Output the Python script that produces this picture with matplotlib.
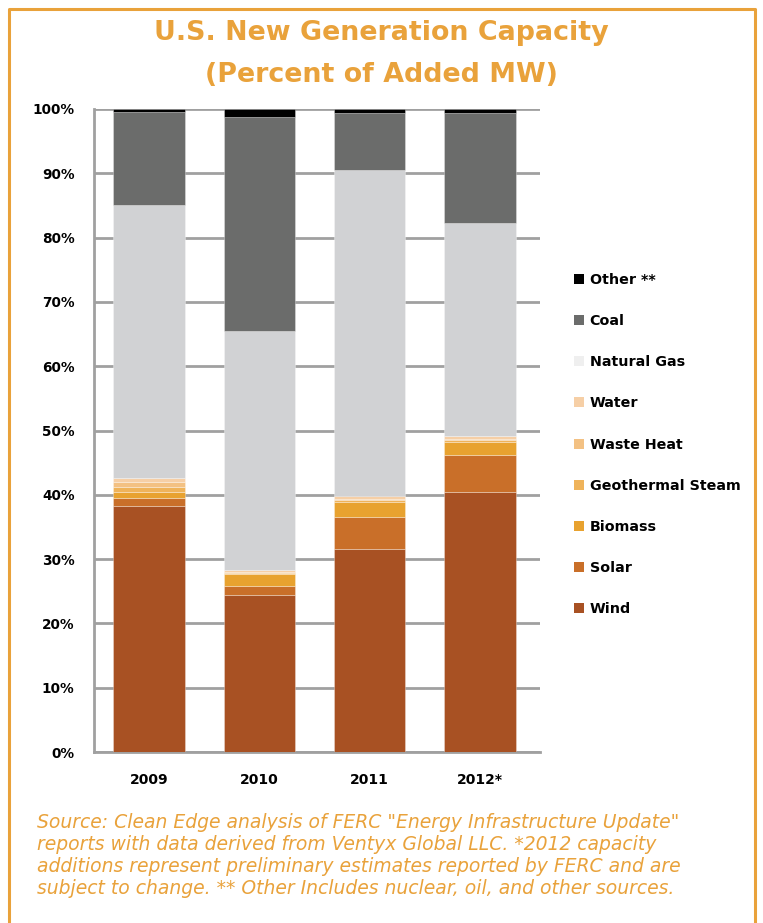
import numpy as np
import matplotlib.pyplot as plt
from matplotlib.patches import Patch
from matplotlib.lines import Line2D

# ===== DATA (percent of added MW) =====
years = ["2009", "2010", "2011", "2012*"]
sources = ["Wind", "Solar", "Biomass", "Geothermal Steam", "Waste Heat",
           "Water", "Natural Gas", "Coal", "Other **"]

wind        = [38.2, 24.4, 31.5, 40.5]
solar       = [1.3, 1.4, 5.0, 5.75]
biomass     = [1.0, 1.9, 2.4, 2.0]
geothermal  = [0.7, 0.2, 0.3, 0.2]
waste_heat  = [0.8, 0.1, 0.2, 0.3]
water       = [0.6, 0.3, 0.4, 0.35]
natural_gas = [42.5, 37.1, 50.7, 33.1]
coal        = [14.5, 33.3, 8.9, 17.2]
other       = [0.4, 1.3, 0.6, 0.6]

series = [wind, solar, biomass, geothermal, waste_heat, water,
          natural_gas, coal, other]
bar_colors = ["#A85123", "#C96F29", "#E8A22F", "#EFB35A", "#F3C183",
              "#F6CFA6", "#D1D2D4", "#6B6C6B", "#000000"]
legend_colors = bar_colors.copy()
legend_colors[6] = "#EFEFEF"

orange = "#E9A23B"

fig = plt.figure(figsize=(7.63, 9.23), dpi=100)
W, H = 763, 923

# axes in pixel coords: left 94, right 540, top 109, bottom 752
ax = fig.add_axes([94 / W, 1 - 752 / H, (540 - 94) / W, (752 - 109) / H])

x = np.arange(len(years))
bottom = np.zeros(len(years))
for vals, col in zip(series, bar_colors):
    ax.bar(x, vals, width=0.65, bottom=bottom, color=col,
           edgecolor=(1, 1, 1, 0.35), linewidth=0.6, zorder=3)
    bottom += np.array(vals)

ax.set_xlim(-0.5, 3.545)
ax.set_ylim(0, 100)
ax.set_yticks(np.arange(0, 101, 10))
ax.set_yticklabels([f"{v}%" for v in range(0, 101, 10)],
                   fontsize=9.8, fontweight="bold")
ax.set_xticks(x)
ax.set_xticklabels(years, fontsize=10, fontweight="bold")
ax.tick_params(axis="y", length=0, pad=14)
ax.tick_params(axis="x", length=0, pad=15)
for lab in ax.get_yticklabels():
    lab.set_verticalalignment("center_baseline")
ax.grid(axis="y", color="#A0A0A0", linewidth=2, zorder=0)
for s in ["top", "right"]:
    ax.spines[s].set_visible(False)
for s in ["left", "bottom"]:
    ax.spines[s].set_color("#A0A0A0")
    ax.spines[s].set_linewidth(2)

# legend (top entry = Other)
handles = [Patch(facecolor=c, edgecolor="none", label=l)
           for l, c in zip(sources, legend_colors)][::-1]
leg = fig.legend(handles=handles, loc="upper left",
                 bbox_to_anchor=(561 / W, 1 - 260 / H), frameon=False,
                 handlelength=0.7, handleheight=0.7, handletextpad=0.4,
                 labelspacing=1.9, prop={"weight": "bold", "size": 10.3})

# title
fig.text(0.5, 1 - 33 / H, "U.S. New Generation Capacity", ha="center",
         va="center", color=orange, fontsize=19.4, fontweight="bold")
fig.text(0.5, 1 - 75 / H, "(Percent of Added MW)", ha="center",
         va="center", color=orange, fontsize=19.4, fontweight="bold")

# footnote
note = ('Source: Clean Edge analysis of FERC "Energy Infrastructure Update"\n'
        'reports with data derived from Ventyx Global LLC. *2012 capacity\n'
        'additions represent preliminary estimates reported by FERC and are\n'
        'subject to change. ** Other Includes nuclear, oil, and other sources.')
fig.text(37 / W, 1 - 813 / H, note, ha="left", va="top", color=orange,
         fontsize=13.5, style="italic", linespacing=1.2)

# orange frame
fx = [9 / W, 9 / W, 755 / W, 755 / W]
fy = [0, 1 - 9 / H, 1 - 9 / H, 0]
fig.add_artist(Line2D(fx, fy, color=orange, linewidth=2.2,
                      transform=fig.transFigure))

fig.savefig("out.png", dpi=100)
